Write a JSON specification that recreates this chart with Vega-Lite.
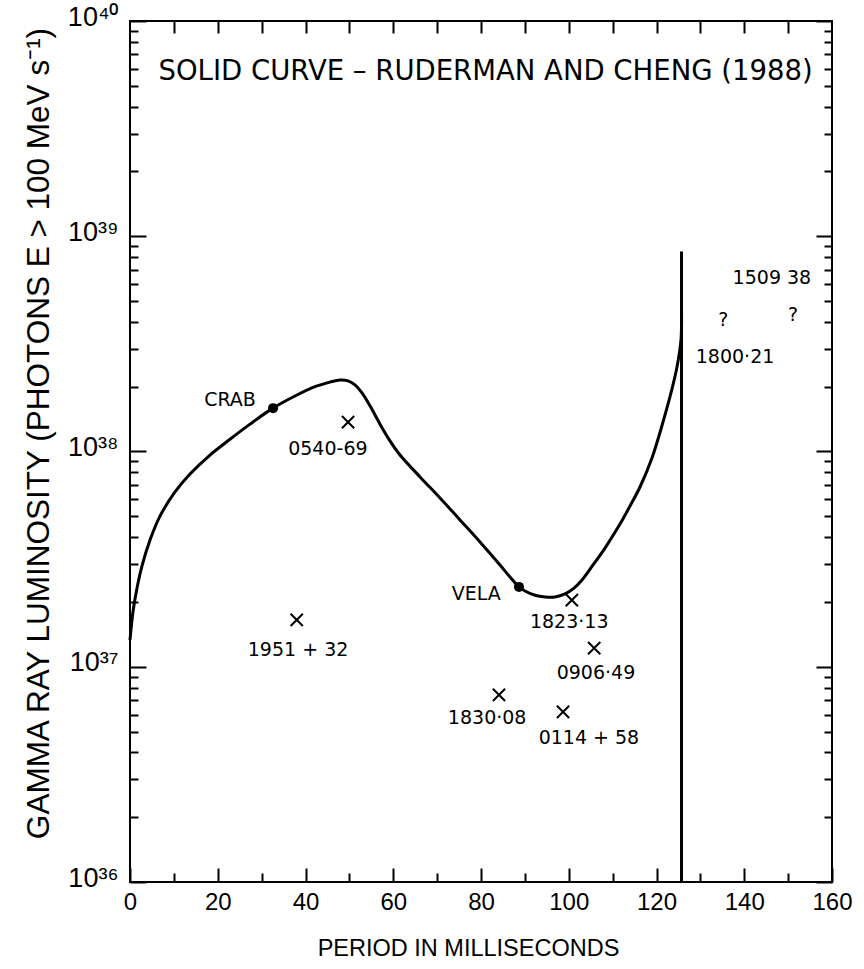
{
  "$schema": "https://vega.github.io/schema/vega-lite/v6.json",
  "width": 702,
  "height": 861,
  "autosize": "none",
  "padding": {"left": 130, "top": 21, "right": 32, "bottom": 87},
  "background": "white",
  "config": {
    "view": {"stroke": "black", "strokeWidth": 2},
    "axis": {
      "domain": false,
      "grid": false,
      "tickColor": "black",
      "tickWidth": 2,
      "labelColor": "black",
      "titleColor": "black",
      "labelFont": "Liberation Sans",
      "titleFont": "Liberation Sans",
      "titleFontWeight": "normal"
    }
  },
  "datasets": {
    "curve": [
      {"period": 0.0, "lum": 1.33e37},
      {"period": 0.68, "lum": 1.80e37},
      {"period": 1.6, "lum": 2.32e37},
      {"period": 2.74, "lum": 2.94e37},
      {"period": 4.56, "lum": 3.88e37},
      {"period": 6.84, "lum": 5.01e37},
      {"period": 10.26, "lum": 6.49e37},
      {"period": 13.68, "lum": 7.86e37},
      {"period": 18.23, "lum": 9.63e37},
      {"period": 22.79, "lum": 1.14e38},
      {"period": 27.35, "lum": 1.34e38},
      {"period": 32.59, "lum": 1.59e38},
      {"period": 37.61, "lum": 1.81e38},
      {"period": 42.17, "lum": 2.00e38},
      {"period": 45.58, "lum": 2.10e38},
      {"period": 47.86, "lum": 2.15e38},
      {"period": 49.69, "lum": 2.13e38},
      {"period": 51.28, "lum": 2.04e38},
      {"period": 52.88, "lum": 1.87e38},
      {"period": 54.7, "lum": 1.63e38},
      {"period": 56.98, "lum": 1.34e38},
      {"period": 59.26, "lum": 1.12e38},
      {"period": 61.54, "lum": 9.63e37},
      {"period": 66.1, "lum": 7.62e37},
      {"period": 70.66, "lum": 6.08e37},
      {"period": 75.21, "lum": 4.81e37},
      {"period": 79.77, "lum": 3.80e37},
      {"period": 84.33, "lum": 2.97e37},
      {"period": 86.61, "lum": 2.61e37},
      {"period": 88.66, "lum": 2.35e37},
      {"period": 90.03, "lum": 2.25e37},
      {"period": 92.31, "lum": 2.15e37},
      {"period": 94.59, "lum": 2.11e37},
      {"period": 96.87, "lum": 2.11e37},
      {"period": 99.15, "lum": 2.18e37},
      {"period": 101.2, "lum": 2.32e37},
      {"period": 103.02, "lum": 2.53e37},
      {"period": 105.53, "lum": 2.97e37},
      {"period": 108.26, "lum": 3.56e37},
      {"period": 111.68, "lum": 4.60e37},
      {"period": 113.96, "lum": 5.58e37},
      {"period": 116.24, "lum": 6.84e37},
      {"period": 118.97, "lum": 9.33e37},
      {"period": 121.48, "lum": 1.37e38},
      {"period": 123.3, "lum": 1.87e38},
      {"period": 124.67, "lum": 2.47e38},
      {"period": 125.58, "lum": 3.30e38},
      {"period": 125.7, "lum": 4.5e38}
    ],
    "limit": [
      {"period": 125.7, "lum": 1e36, "lum2": 8.5e38}
    ],
    "dots": [
      {"name": "CRAB", "period": 32.6, "lum": 1.59e38},
      {"name": "VELA", "period": 88.66, "lum": 2.35e37}
    ],
    "crosses": [
      {"name": "0540-69", "period": 49.7, "lum": 1.37e38},
      {"name": "1951+32", "period": 38.0, "lum": 1.65e37},
      {"name": "1823-13", "period": 100.7, "lum": 2.04e37},
      {"name": "0906-49", "period": 105.8, "lum": 1.22e37},
      {"name": "1830-08", "period": 84.1, "lum": 7.4e36},
      {"name": "0114+58", "period": 98.7, "lum": 6.17e36}
    ],
    "labels": [
      {"text": "CRAB", "period": 22.8, "lum": 1.73e38},
      {"text": "VELA", "period": 78.9, "lum": 2.18e37},
      {"text": "0540-69", "period": 45.1, "lum": 1.03e38},
      {"text": "1951 + 32", "period": 38.3, "lum": 1.20e37},
      {"text": "1823·13", "period": 100.1, "lum": 1.61e37},
      {"text": "0906·49", "period": 106.2, "lum": 9.35e36},
      {"text": "1830·08", "period": 81.4, "lum": 5.78e36},
      {"text": "0114 + 58", "period": 104.6, "lum": 4.67e36},
      {"text": "1509 38", "period": 146.3, "lum": 6.4e38},
      {"text": "1800·21", "period": 137.9, "lum": 2.75e38},
      {"text": "?", "period": 135.2, "lum": 4.08e38},
      {"text": "?", "period": 151.1, "lum": 4.3e38}
    ],
    "heading": [
      {"text": "SOLID CURVE – RUDERMAN AND CHENG (1988)", "period": 6.5, "lum": 5.8e39}
    ]
  },
  "layer": [
    {
      "data": {"name": "curve"},
      "mark": {"type": "line", "color": "black", "strokeWidth": 3, "interpolate": "catmull-rom"},
      "encoding": {
        "x": {
          "field": "period", "type": "quantitative",
          "scale": {"domain": [0, 160], "nice": false, "zero": false},
          "axis": {
            "orient": "bottom",
            "values": [0, 20, 40, 60, 80, 100, 120, 140, 160],
            "tickSize": -14,
            "labelPadding": 22,
            "labelFont": "Liberation Sans Narrow, Liberation Sans",
            "labelFontSize": 24,
            "labelFlush": false,
            "title": "PERIOD IN MILLISECONDS",
            "titleFontSize": 23.5,
            "titleX": 338,
            "titleY": 73,
            "titleBaseline": "alphabetic"
          }
        },
        "y": {
          "field": "lum", "type": "quantitative",
          "scale": {"type": "log", "domain": [1e36, 1e40], "nice": false},
          "axis": {
            "orient": "left",
            "values": [1e36, 1e37, 1e38, 1e39, 1e40],
            "tickSize": -16,
            "labelPadding": 28,
            "labelFontSize": 27,
            "labelBaseline": "alphabetic",
            "labelOffset": 4,
            "labelExpr": "datum.value == 1e36 ? '10³⁶' : datum.value == 1e37 ? '10³⁷' : datum.value == 1e38 ? '10³⁸' : datum.value == 1e39 ? '10³⁹' : '10⁴⁰'",
            "title": "GAMMA RAY LUMINOSITY (PHOTONS E > 100 MeV s⁻¹)",
            "titleFontSize": 31.5,
            "titleX": -82,
            "titleY": 412,
            "titleBaseline": "alphabetic"
          }
        }
      }
    },
    {
      "data": {"name": "limit"},
      "mark": {"type": "rule", "color": "black", "strokeWidth": 3},
      "encoding": {
        "x": {
          "field": "period", "type": "quantitative",
          "scale": {"domain": [0, 160], "nice": false, "zero": false},
          "axis": {"orient": "bottom", "values": [10, 30, 50, 70, 90, 110, 130, 150], "tickSize": -9, "labels": false, "title": null}
        },
        "y": {
          "field": "lum", "type": "quantitative",
          "scale": {"type": "log", "domain": [1e36, 1e40], "nice": false},
          "axis": {
            "orient": "left",
            "values": [2e36, 3e36, 4e36, 5e36, 6e36, 7e36, 8e36, 9e36, 2e37, 3e37, 4e37, 5e37, 6e37, 7e37, 8e37, 9e37, 2e38, 3e38, 4e38, 5e38, 6e38, 7e38, 8e38, 9e38, 2e39, 3e39, 4e39, 5e39, 6e39, 7e39, 8e39, 9e39],
            "tickSize": -8, "labels": false, "title": null
          }
        },
        "y2": {"field": "lum2"}
      }
    },
    {
      "data": {"name": "dots"},
      "mark": {"type": "point", "shape": "circle", "filled": true, "color": "black", "size": 100, "opacity": 1},
      "encoding": {
        "x": {
          "field": "period", "type": "quantitative",
          "scale": {"domain": [0, 160], "nice": false, "zero": false},
          "axis": {"orient": "top", "values": [10, 20, 30, 40, 50, 60, 70, 80, 90, 100, 110, 120, 130, 140, 150], "tickSize": -12, "labels": false, "title": null}
        },
        "y": {
          "field": "lum", "type": "quantitative",
          "scale": {"type": "log", "domain": [1e36, 1e40], "nice": false},
          "axis": {"orient": "right", "values": [1e36, 1e37, 1e38, 1e39, 1e40], "tickSize": -16, "labels": false, "title": null}
        }
      }
    },
    {
      "data": {"name": "crosses"},
      "mark": {"type": "point", "shape": "M-1,-1L1,1M-1,1L1,-1", "filled": false, "color": "black", "strokeWidth": 2, "size": 150, "opacity": 1},
      "encoding": {
        "x": {"field": "period", "type": "quantitative", "scale": {"domain": [0, 160], "nice": false, "zero": false}, "axis": null},
        "y": {
          "field": "lum", "type": "quantitative",
          "scale": {"type": "log", "domain": [1e36, 1e40], "nice": false},
          "axis": {
            "orient": "right",
            "values": [2e36, 3e36, 4e36, 5e36, 6e36, 7e36, 8e36, 9e36, 2e37, 3e37, 4e37, 5e37, 6e37, 7e37, 8e37, 9e37, 2e38, 3e38, 4e38, 5e38, 6e38, 7e38, 8e38, 9e38, 2e39, 3e39, 4e39, 5e39, 6e39, 7e39, 8e39, 9e39],
            "tickSize": -8, "labels": false, "title": null
          }
        }
      }
    },
    {
      "data": {"name": "labels"},
      "mark": {"type": "text", "font": "DejaVu Sans", "fontSize": 19, "color": "black", "align": "center", "baseline": "middle"},
      "encoding": {
        "x": {"field": "period", "type": "quantitative", "scale": {"domain": [0, 160], "nice": false, "zero": false}, "axis": null},
        "y": {"field": "lum", "type": "quantitative", "scale": {"type": "log", "domain": [1e36, 1e40], "nice": false}, "axis": null},
        "text": {"field": "text"}
      }
    },
    {
      "data": {"name": "heading"},
      "mark": {"type": "text", "font": "DejaVu Sans", "fontSize": 27.5, "color": "black", "align": "left", "baseline": "middle"},
      "encoding": {
        "x": {"field": "period", "type": "quantitative", "scale": {"domain": [0, 160], "nice": false, "zero": false}, "axis": null},
        "y": {"field": "lum", "type": "quantitative", "scale": {"type": "log", "domain": [1e36, 1e40], "nice": false}, "axis": null},
        "text": {"field": "text"}
      }
    }
  ],
  "resolve": {"axis": {"x": "independent", "y": "independent"}}
}
